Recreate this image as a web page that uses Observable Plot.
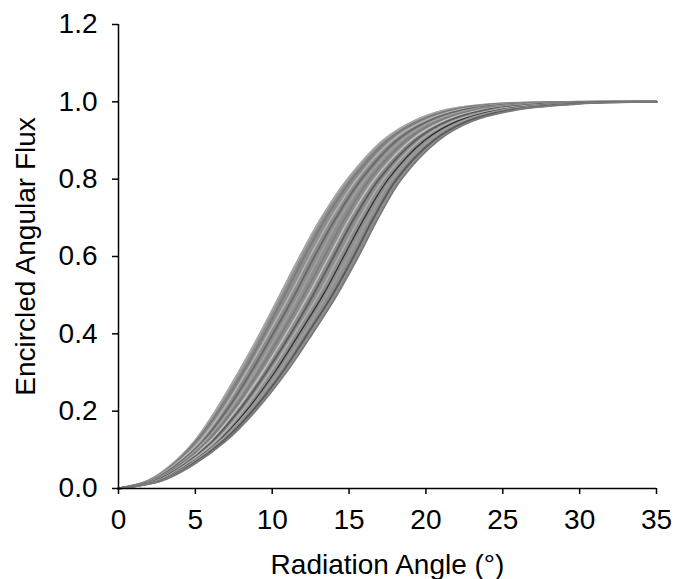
<!DOCTYPE html>
<html>
<head>
<meta charset="utf-8">
<script src="https://cdn.jsdelivr.net/npm/d3@7"></script>
<script src="https://cdn.jsdelivr.net/npm/@observablehq/plot@0.6"></script>
<style>
  html, body { margin: 0; padding: 0; background: #fff; }
  #chart { width: 675px; height: 579px; }
</style>
</head>
<body>
<div id="chart"></div>
<script>
// Encircled flux levels (y) and the radiation angle (x, degrees) at which each curve reaches them
const levels = [0, 0.02, 0.06, 0.12, 0.2, 0.3, 0.4, 0.5, 0.6, 0.7, 0.8, 0.9, 0.95, 0.98, 0.995, 1.0, 1.0];

// envelope of the bundle (fastest and slowest rising curves)
const edgeLow  = [0, 1.9, 3.4, 4.9, 6.3, 7.8, 9.2, 10.5, 11.8, 13.2, 14.9, 17.2, 19.2, 21.4, 24.5, 30.0, 35];
const edgeHigh = [0, 2.8, 4.8, 6.9, 8.9, 10.9, 12.6, 14.2, 15.6, 16.9, 18.4, 20.8, 23.0, 26.0, 30.0, 34.0, 35];

const curve01 = edgeLow;
const curve02 = [0, 2.0, 3.5, 5.0, 6.5, 8.1, 9.5, 10.8, 12.1, 13.5, 15.2, 17.5, 19.5, 21.8, 24.9, 30.3, 35];
const curve03 = [0, 2.05, 3.6, 5.25, 6.75, 8.3, 9.75, 11.15, 12.45, 13.85, 15.5, 17.8, 19.85, 22.2, 25.45, 30.7, 35];
const curve04 = [0, 2.15, 3.75, 5.45, 7.0, 8.6, 10.05, 11.45, 12.75, 14.15, 15.8, 18.1, 20.15, 22.55, 25.9, 31.0, 35];
const curve05 = [0, 2.2, 3.85, 5.55, 7.2, 8.85, 10.35, 11.75, 13.05, 14.4, 16.05, 18.4, 20.45, 22.9, 26.3, 31.3, 35];
const curve06 = [0, 2.3, 3.95, 5.75, 7.4, 9.1, 10.6, 12.05, 13.4, 14.75, 16.35, 18.7, 20.8, 23.35, 26.8, 31.7, 35];
const curve07 = [0, 2.35, 4.1, 5.9, 7.6, 9.35, 10.9, 12.35, 13.7, 15.05, 16.65, 19.0, 21.1, 23.7, 27.25, 32.0, 35];
const curve08 = [0, 2.4, 4.2, 6.05, 7.8, 9.6, 11.2, 12.65, 14.0, 15.35, 16.95, 19.3, 21.4, 24.05, 27.7, 32.3, 35];
const curve09 = [0, 2.5, 4.3, 6.25, 8.05, 9.85, 11.45, 13.0, 14.35, 15.7, 17.25, 19.6, 21.75, 24.5, 28.2, 32.7, 35];
const curve10 = [0, 2.6, 4.45, 6.45, 8.3, 10.15, 11.75, 13.3, 14.65, 16.0, 17.55, 19.9, 22.05, 24.85, 28.65, 33.0, 35];
const curve11 = [0, 2.65, 4.55, 6.55, 8.45, 10.4, 12.05, 13.55, 14.95, 16.3, 17.8, 20.2, 22.35, 25.2, 29.05, 33.3, 35];
const curve12 = [0, 2.75, 4.7, 6.75, 8.7, 10.65, 12.3, 13.9, 15.3, 16.6, 18.1, 20.5, 22.7, 25.65, 29.55, 33.7, 35];
const curve13 = edgeHigh;

const curves = [curve01, curve02, curve03, curve04, curve05, curve06, curve07,
                curve08, curve09, curve10, curve11, curve12, curve13];
const shades = ["#a6a6a6", "#7c7c7c", "#b4b4b4", "#6a6a6a", "#a0a0a0", "#7e7e7e", "#c2c2c2",
                "#5e5e5e", "#b0b0b0", "#2e2e2e", "#9a9a9a", "#5a5a5a", "#7a7a7a"];
const widths = [2, 2, 1.5, 2, 1.5, 2, 1.5, 2, 1.5, 1.2, 2, 2, 2];

const xTicks = [0, 5, 10, 15, 20, 25, 30, 35];
const yTicks = [0, 0.2, 0.4, 0.6, 0.8, 1.0, 1.2];

const band = levels.map((y, j) => ({y, lo: edgeLow[j], hi: edgeHigh[j]}));
const rows = curves.flatMap((c, i) => c.map((x, j) => ({x, y: levels[j], id: i})));

const chart = Plot.plot({
  width: 675,
  height: 579,
  marginLeft: 118,
  marginRight: 19,
  marginTop: 24,
  marginBottom: 91,
  style: {fontFamily: "'Liberation Sans', Arial, sans-serif", fontSize: "28px", color: "#000", background: "#fff"},
  x: {domain: [0, 35]},
  y: {domain: [0, 1.2]},
  marks: [
    Plot.areaX(band, {y: "y", x1: "lo", x2: "hi", fill: "#8e8e8e", curve: "catmull-rom"}),
    Plot.line(rows, {x: "x", y: "y", z: "id", stroke: d => shades[d.id], strokeWidth: d => widths[d.id], curve: "catmull-rom"}),
    Plot.ruleX([0], {y1: 0, y2: 1.2, stroke: "#000", strokeWidth: 1.5}),
    Plot.ruleY([0], {x1: 0, x2: 35, stroke: "#000", strokeWidth: 1.5}),
    Plot.axisY({ticks: yTicks, tickFormat: d3.format(".1f"), tickSize: 6, tickPadding: 15, fontSize: 28,
      label: "Encircled Angular Flux", labelAnchor: "center", labelArrow: "none", labelOffset: 103, strokeWidth: 1.5}),
    Plot.axisX({ticks: xTicks, tickFormat: d3.format("d"), tickSize: 6, tickPadding: 15, fontSize: 28,
      label: "Radiation Angle (°)", labelAnchor: "center", labelArrow: "none", labelOffset: 85, strokeWidth: 1.5})
  ]
});
document.getElementById("chart").appendChild(chart);
</script>
</body>
</html>
